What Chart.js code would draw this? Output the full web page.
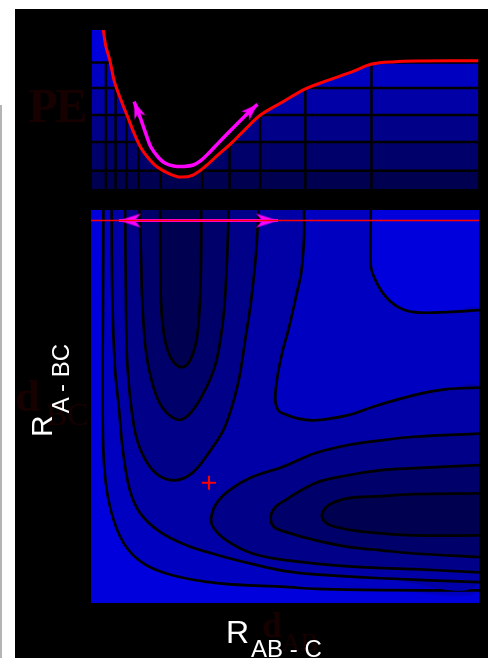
<!DOCTYPE html>
<html>
<head>
<meta charset="utf-8">
<title>Potential energy surface A + BC</title>
<script src="https://cdn.jsdelivr.net/npm/chart.js@4.4.1/dist/chart.umd.min.js"></script>
<style>
  body { margin: 0; background: #fff; }
  #page { position: relative; width: 488px; height: 658px; overflow: hidden; }
  #edge { position: absolute; left: 0; top: 105px; width: 2px; height: 553px; background: #b4b4b4; }
  #panel { position: absolute; left: 15px; top: 9px; width: 473px; height: 649px; background: #000; }
  canvas { position: absolute; left: 15px; }
  #peChart { top: 9px; }
  #pesChart { top: 200px; }
  .ghost { position: absolute; color: #170000; font-family: 'Liberation Serif', serif; font-weight: bold; line-height: 1; white-space: nowrap; }
  .ghost span { position: relative; font-weight: normal; }
  .axisTitle { position: absolute; color: #fff; font-family: 'Liberation Sans', Arial, sans-serif; line-height: 1; white-space: nowrap; }
  .axisTitle span { position: relative; font-size: 24px; margin-left: 2px; }
</style>
</head>
<body>
<div id="page">
  <div id="edge"></div>
  <div id="panel"></div>
  <div class="ghost" style="left:28px;top:82px;font-size:48px;letter-spacing:-2px">PE</div>
  <div class="ghost" style="left:15px;top:375px;font-size:44px">d<span style="font-size:32px;top:14px;margin-left:6px">BC</span></div>
  <div class="ghost" style="left:262px;top:608px;font-size:35px">d<span style="font-size:26px;top:14px">AB</span></div>
  <canvas id="peChart" width="473" height="190"></canvas>
  <canvas id="pesChart" width="473" height="458"></canvas>
  <div class="axisTitle" style="left:226px;top:616px;font-size:32px">R<span style="top:14px">AB - C</span></div>
  <div class="axisTitle" style="left:27px;top:437px;font-size:30px;transform:rotate(-90deg);transform-origin:0 0">R<span style="top:17px">A - BC</span></div>
</div>
<script>
// axis ranges (distances in arbitrary units, energy in arbitrary units)
const rMin = 0, rMax = 10;
const peMin = 0, peMax = 100;

// contour energies E1..E5 and the colour of each band (below E1 ... above E5)
const levels = [11.5, 29.5, 46.5, 63.5, 79.5];
const bandColors = ['#000050', '#00006a', '#000088', '#0000a6', '#0000c0', '#0000dc'];

// potential energy along the cut R(A-BC) = cutR
const peR = [0, 0.29, 0.36, 0.46, 0.58, 0.75, 0.92, 1.09, 1.25, 1.43, 1.68, 2.02, 2.29, 2.61, 2.92, 3.26, 3.60, 3.97, 4.36, 4.87, 5.55, 6.14, 6.74, 7.24, 7.84, 8.43, 10];
const peE = [134.6, 100, 89.5, 81.1, 67.5, 56.0, 45.5, 35.0, 26.6, 20.3, 14.0, 9.4, 7.5, 8.8, 14.0, 21.4, 28.7, 37.7, 46.5, 53.9, 63.3, 68.6, 73.8, 78.6, 80.1, 80.5, 80.7];

// where the cut meets the contours, and which level each one is
const cutCrossings = [0.36, 0.61, 0.89, 1.20, 1.78, 2.85, 3.56, 4.35, 5.52, 7.23];
const cutLevelIndex = [4, 3, 2, 1, 0, 0, 1, 2, 3, 4];

// vibration arrow drawn over the PE curve
const vibR = [1.09, 1.18, 1.27, 1.39, 1.52, 1.73, 1.91, 2.11, 2.37, 2.62, 2.83, 3.05, 3.26, 3.68, 3.94, 4.10, 4.28];
const vibE = [54.9, 49.1, 43.4, 35.0, 26.6, 19.5, 16.0, 14.5, 14.2, 15.1, 18.2, 23.3, 28.7, 39.2, 45.5, 49.1, 53.3];

// contour lines as [R(AB-C), R(A-BC)]
const e5Outer = [[0.32,10],[0.31,7.7],[0.30,5.16],[0.34,3.46],[0.51,2.36],[0.85,1.51],[1.36,1.00],[2.12,0.70],[3.31,0.50],[5.01,0.41],[5.81,0.36],[7.48,0.33],[10,0.32]];
const e5Inner = [[7.21,10],[7.21,8.60],[7.31,8.26],[7.56,7.84],[7.90,7.54],[8.33,7.40],[9.18,7.40],[10,7.45]];
const e4Outer = [[0.53,10],[0.55,7.71],[0.62,5.93],[0.72,4.95],[0.82,3.89],[1.00,2.87],[1.27,2.28],[1.78,1.81],[2.46,1.47],[3.30,1.21],[4.17,0.99],[5.01,0.81],[5.77,0.73],[7.48,0.63],[10,0.53]];
const e4Inner = [[5.49,10],[5.49,9.29],[5.42,8.42],[5.31,7.91],[5.10,7.00],[4.93,6.38],[4.79,5.67],[4.75,5.16],[4.83,4.90],[5.01,4.80],[5.31,4.70],[5.78,4.65],[6.63,4.78],[7.39,5.03],[8.33,5.29],[9.18,5.44],[10,5.48]];
const e3Vert = [[0.88,10],[0.90,7.71],[0.94,6.01],[1.11,4.48],[1.32,3.80],[1.67,3.30],[2.13,3.12],[2.60,3.30],[3.02,3.80],[3.45,4.48],[3.79,5.59],[4.00,6.86],[4.13,7.71],[4.25,8.85],[4.32,10]];
const e3Horiz = [[10,4.31],[8.32,4.23],[7.48,4.14],[6.63,4.02],[5.77,3.81],[4.93,3.46],[4.16,3.21],[3.57,2.87],[3.23,2.53],[3.10,2.19],[3.14,1.94],[3.48,1.60],[4.16,1.26],[5.01,1.09],[6.63,0.93],[8.32,0.86],[10,0.78]];
const e2Vert = [[1.25,10],[1.29,8.73],[1.32,7.71],[1.41,6.44],[1.58,5.59],[1.83,4.99],[2.22,4.67],[2.51,4.78],[2.85,5.25],[3.19,6.01],[3.36,6.86],[3.45,7.71],[3.51,8.85],[3.55,10]];
const e2Horiz = [[10,3.51],[8.32,3.43],[7.48,3.38],[6.63,3.25],[5.77,3.05],[5.01,2.62],[4.75,2.44],[4.63,2.19],[4.71,1.94],[5.01,1.81],[5.77,1.60],[6.63,1.43],[7.48,1.34],[8.32,1.26],[10,1.17]];
const e1Vert = [[1.78,10],[1.80,7.71],[1.88,6.82],[2.00,6.36],[2.13,6.13],[2.31,6.00],[2.49,6.08],[2.64,6.38],[2.74,6.82],[2.81,7.71],[2.84,8.98],[2.84,10]];
const e1Horiz = [[10,2.79],[8.32,2.77],[7.48,2.72],[6.63,2.67],[6.21,2.54],[6.03,2.41],[5.95,2.23],[6.03,2.06],[6.28,1.94],[7.05,1.81],[8.32,1.72],[10,1.72]];

// the cut, its arrow, and the saddle point
const cutR = 9.73;
const cutArrow = [0.72, 4.82];
const saddle = [3.04, 3.06];

const T = 0.35;
const toPts = arr => arr.map(([x, y]) => ({x, y}));
const zip = (xs, ys) => xs.map((x, i) => ({x, y: ys[i]}));
const endsOnly = c => (c.dataIndex === 0 || c.dataIndex === c.dataset.data.length - 1) ? 6 : 0;

function arrowHead(len, width) {
  // pointing right, tip in the middle of the canvas
  const c = document.createElement('canvas');
  c.width = c.height = 2 * len;
  const g = c.getContext('2d');
  g.fillStyle = '#ff00ff';
  g.beginPath();
  g.moveTo(len, len);
  g.lineTo(0, len - width / 2);
  g.lineTo(len * 0.3, len);
  g.lineTo(0, len + width / 2);
  g.closePath();
  g.fill();
  return c;
}
const headSmall = arrowHead(17, 12);
const headLarge = arrowHead(22, 14);

function arrowRotation(c) {
  const d = c.dataset.data, i = c.dataIndex;
  const j = i === 0 ? 1 : i - 1;
  const sx = c.chart.scales.x, sy = c.chart.scales.y;
  const dx = sx.getPixelForValue(d[i].x) - sx.getPixelForValue(d[j].x);
  const dy = sy.getPixelForValue(d[i].y) - sy.getPixelForValue(d[j].y);
  return Math.atan2(dy, dx) * 180 / Math.PI;
}

function bandGradient(context) {
  const chart = context.chart;
  const area = chart.chartArea;
  if (!area) return bandColors[0];
  const y = chart.scales.y;
  const h = area.bottom - area.top;
  const off = e => Math.min(1, Math.max(0, (area.bottom - y.getPixelForValue(e)) / h));
  const g = chart.ctx.createLinearGradient(0, area.bottom, 0, area.top);
  bandColors.forEach((col, i) => {
    g.addColorStop(i === 0 ? 0 : off(levels[i - 1]), col);
    g.addColorStop(i === levels.length ? 1 : off(levels[i]), col);
  });
  return g;
}

const hidden = (min, max) => ({type: 'linear', min, max, display: false});
const common = {
  responsive: false,
  animation: false,
  events: [],
  plugins: {legend: {display: false}, tooltip: {enabled: false}}
};

// ---- top panel: PE along the cut ----
const peSets = [];
peSets.push({
  data: zip(peR, peE), showLine: true, fill: 'start', backgroundColor: bandGradient,
  borderWidth: 0, borderColor: 'rgba(0,0,0,0)', pointRadius: 0, tension: T, order: 10
});
cutCrossings.forEach((r, i) => {
  peSets.push({
    data: [{x: r, y: peMin}, {x: r, y: levels[cutLevelIndex[i]]}], showLine: true,
    borderColor: '#000', borderWidth: 2.5, pointRadius: 0, order: 5
  });
});
levels.forEach(e => {
  peSets.push({
    data: [{x: rMin, y: e}, {x: rMax, y: e}], showLine: true,
    borderColor: '#000', borderWidth: 2.5, pointRadius: 0, order: 5
  });
});
peSets.push({
  data: zip(vibR, vibE), showLine: true, borderColor: '#ff00ff', borderWidth: 3.5, tension: T,
  pointStyle: headSmall, pointRadius: endsOnly, pointRotation: arrowRotation, order: 2
});
peSets.push({
  data: zip(peR, peE), showLine: true, borderColor: '#ff0000', borderWidth: 3,
  pointRadius: 0, tension: T, order: 1
});

new Chart(document.getElementById('peChart'), {
  type: 'scatter',
  data: {datasets: peSets},
  options: Object.assign({}, common, {
    layout: {padding: {left: 77, right: 3, top: 21, bottom: 10}},
    scales: {x: hidden(rMin, rMax), y: hidden(peMin, peMax)}
  })
});

// ---- bottom panel: contour map ----
const region = (poly, color, order) => ({
  data: toPts(poly), showLine: true, fill: 'shape', backgroundColor: color,
  borderWidth: 0, borderColor: 'rgba(0,0,0,0)', pointRadius: 0, tension: T, order
});
const stroke = (line, order) => ({
  data: toPts(line), showLine: true, fill: false, borderColor: '#000',
  borderWidth: 2.7, pointRadius: 0, tension: T, order
});
const ring = (outer, inner) => outer.concat(inner.slice().reverse());

const pesSets = [
  region(ring(e5Outer, e5Inner), bandColors[4], 20),
  stroke(e5Outer, 19), stroke(e5Inner, 19),
  region(ring(e4Outer, e4Inner), bandColors[3], 18),
  stroke(e4Outer, 17), stroke(e4Inner, 17),
  region(e3Vert, bandColors[2], 16), region(e3Horiz, bandColors[2], 16),
  stroke(e3Vert, 15), stroke(e3Horiz, 15),
  region(e2Vert, bandColors[1], 14), region(e2Horiz, bandColors[1], 14),
  stroke(e2Vert, 13), stroke(e2Horiz, 13),
  region(e1Vert, bandColors[0], 12), region(e1Horiz, bandColors[0], 12),
  stroke(e1Vert, 11), stroke(e1Horiz, 11),
  {
    data: [{x: cutArrow[0], y: cutR}, {x: cutArrow[1], y: cutR}], showLine: true,
    borderColor: '#ff00ff', borderWidth: 3, pointStyle: headLarge, pointRadius: 6,
    pointRotation: arrowRotation, order: 3
  },
  {
    data: [{x: rMin, y: cutR}, {x: rMax, y: cutR}], showLine: true,
    borderColor: '#ff0000', borderWidth: 1.5, pointRadius: 0, order: 2
  },
  {
    data: [{x: saddle[0], y: saddle[1]}], pointStyle: 'cross', pointRadius: 7,
    pointBorderColor: '#ff0000', pointBorderWidth: 2, order: 1
  }
];

const areaBackground = {
  id: 'areaBackground',
  beforeDatasetsDraw(chart, args, opts) {
    const {ctx, chartArea: a} = chart;
    ctx.save();
    ctx.fillStyle = opts.color;
    ctx.fillRect(a.left, a.top, a.right - a.left, a.bottom - a.top);
    ctx.restore();
  }
};

new Chart(document.getElementById('pesChart'), {
  type: 'scatter',
  data: {datasets: pesSets},
  options: Object.assign({}, common, {
    layout: {padding: {left: 76, right: 4, top: 10, bottom: 55}},
    scales: {x: hidden(rMin, rMax), y: hidden(rMin, rMax)},
    plugins: {legend: {display: false}, tooltip: {enabled: false}, areaBackground: {color: bandColors[5]}}
  }),
  plugins: [areaBackground]
});
</script>
</body>
</html>
